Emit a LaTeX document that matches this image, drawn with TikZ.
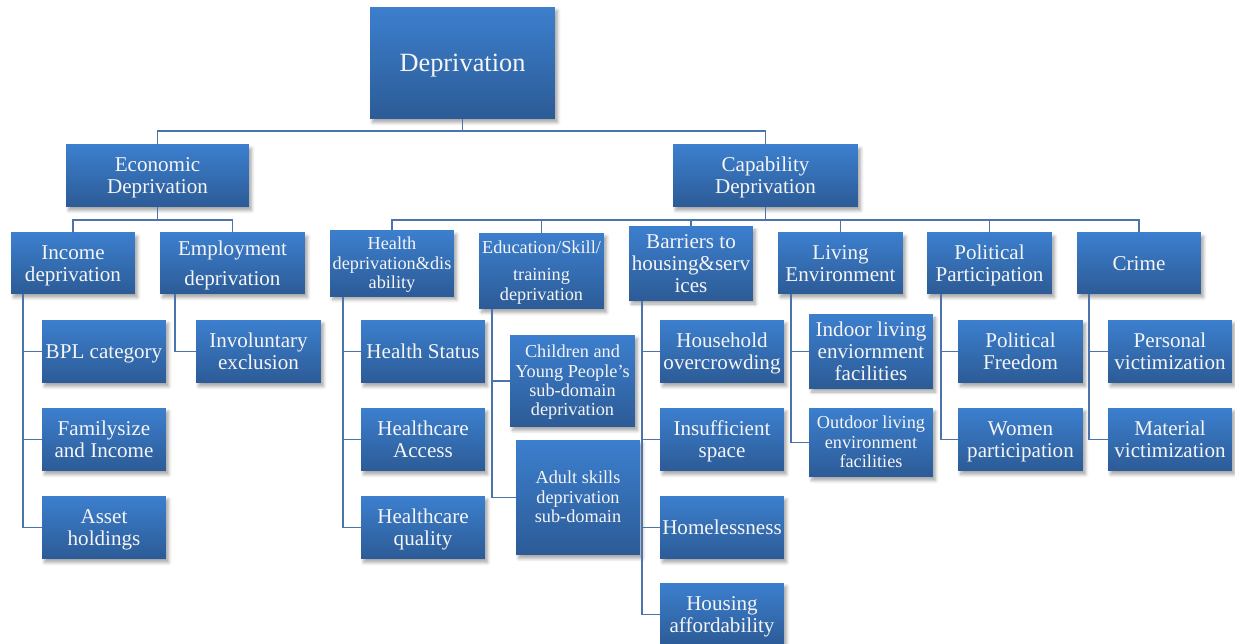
\documentclass[tikz,border=0pt]{standalone}
\usepackage{fontspec}
\setmainfont{Liberation Serif}
\usetikzlibrary{shadows.blur}

\definecolor{boxtop}{RGB}{60,127,206}
\definecolor{boxbot}{RGB}{44,91,150}
\definecolor{linkblue}{RGB}{76,116,172}

% box text: one centred column, first line raised like a word-processor line
\newcommand{\boxlines}[1]{\begin{tabular}{@{}c@{}}\rule{0pt}{0.95em}#1\end{tabular}}

\tikzset{
  box/.style={rectangle, top color=boxtop, bottom color=boxbot,
    text=white!96!black, inner sep=1pt,
    font=\fontsize{12}{12.5}\selectfont,
    blur shadow={shadow xshift=1.5pt, shadow yshift=-2pt, shadow blur steps=5, shadow opacity=35}},
  smallbox/.style={box, font=\fontsize{10.4}{11}\selectfont},
  link/.style={draw=linkblue, line width=1.1pt},
}

\begin{document}
\begin{tikzpicture}[x=0.02cm, y=-0.02cm]
      \useasboundingbox (0,0) rectangle (1235,644);

      % top levels
      \node (dep) at (462.5,63) [box, minimum width=3.70cm, minimum height=2.24cm, font=\fontsize{15}{16}\selectfont] {\boxlines{Deprivation}};
      \node (eco) at (157.5,176) [box, minimum width=3.66cm, minimum height=1.24cm] {\boxlines{Economic\\Deprivation}};
      \node (cap) at (765.5,176) [box, minimum width=3.70cm, minimum height=1.24cm] {\boxlines{Capability\\Deprivation}};

      % economic domains
      \node (inc) at (73,263.5) [box, minimum width=2.48cm, minimum height=1.22cm] {\boxlines{Income\\deprivation}};
      \node (emp) at (232.5,263.5) [box, minimum width=2.90cm, minimum height=1.22cm] {\boxlines{Employment\\[4.5pt]deprivation}};
      \node (bpl) at (104,351.5) [box, minimum width=2.48cm, minimum height=1.26cm] {\boxlines{BPL category}};
      \node (fam) at (104,439.5) [box, minimum width=2.48cm, minimum height=1.26cm] {\boxlines{Familysize\\and Income}};
      \node (ast) at (104,527.5) [box, minimum width=2.48cm, minimum height=1.26cm] {\boxlines{Asset\\holdings}};
      \node (inv) at (258.5,351.5) [box, minimum width=2.50cm, minimum height=1.26cm] {\boxlines{Involuntary\\exclusion}};

      % capability domains
      \node (hlth) at (392,263.5) [smallbox, minimum width=2.48cm, minimum height=1.22cm] {\boxlines{Health\\deprivation\&dis\\ability}};
      \node (edu) at (541.5,271) [smallbox, minimum width=2.50cm, minimum height=1.52cm] {\boxlines{Education/Skill/\\[4.5pt]training\\deprivation}};
      \node (bar) at (691,263.5) [box, minimum width=2.48cm, minimum height=1.22cm] {\boxlines{Barriers to\\housing\&serv\\ices}};
      \node (liv) at (840.5,263.5) [box, minimum width=2.50cm, minimum height=1.22cm] {\boxlines{Living\\Environment}};
      \node (pol) at (989.5,263.5) [box, minimum width=2.50cm, minimum height=1.22cm] {\boxlines{Political\\Participation}};
      \node (crm) at (1139,263.5) [box, minimum width=2.48cm, minimum height=1.22cm] {\boxlines{Crime}};

      % health
      \node (hst) at (423,351.5) [box, minimum width=2.48cm, minimum height=1.26cm] {\boxlines{Health Status}};
      \node (hac) at (423,439.5) [box, minimum width=2.48cm, minimum height=1.26cm] {\boxlines{Healthcare\\Access}};
      \node (hqu) at (423,527.5) [box, minimum width=2.48cm, minimum height=1.26cm] {\boxlines{Healthcare\\quality}};

      % education
      \node (cyp) at (572.5,381) [smallbox, minimum width=2.50cm, minimum height=1.84cm] {\boxlines{Children and\\Young People's\\sub-domain\\deprivation}};
      \node (ads) at (578,497.5) [smallbox, minimum width=2.48cm, minimum height=2.30cm] {\boxlines{Adult skills\\deprivation\\sub-domain}};

      % housing
      \node (hov) at (722,351.5) [box, minimum width=2.48cm, minimum height=1.26cm] {\boxlines{Household\\overcrowding}};
      \node (ins) at (722,439.5) [box, minimum width=2.48cm, minimum height=1.26cm] {\boxlines{Insufficient\\space}};
      \node (hom) at (722,527.5) [box, minimum width=2.48cm, minimum height=1.26cm] {\boxlines{Homelessness}};
      \node (haf) at (722,614.5) [box, minimum width=2.48cm, minimum height=1.26cm] {\boxlines{Housing\\affordability}};

      % living environment
      \node (ind) at (871,351.5) [box, minimum width=2.48cm, minimum height=1.26cm] {\boxlines{Indoor living\\enviornment\\facilities}};
      \node (out) at (871,442.5) [smallbox, minimum width=2.48cm, minimum height=1.38cm] {\boxlines{Outdoor living\\environment\\facilities}};

      % political
      \node (pfr) at (1020.5,351.5) [box, minimum width=2.50cm, minimum height=1.26cm] {\boxlines{Political\\Freedom}};
      \node (wpa) at (1020.5,439.5) [box, minimum width=2.50cm, minimum height=1.26cm] {\boxlines{Women\\participation}};

      % crime
      \node (pvi) at (1170,351.5) [box, minimum width=2.48cm, minimum height=1.26cm] {\boxlines{Personal\\victimization}};
      \node (mvi) at (1170,439.5) [box, minimum width=2.48cm, minimum height=1.26cm] {\boxlines{Material\\victimization}};

      % links
      \draw[link] (dep.south) -- +(0,12) -| (eco.north);
      \draw[link] (dep.south) -- +(0,12) -| (cap.north);
      \foreach \c in {inc,emp}
        \draw[link] (eco.south) -- +(0,13) -| (\c.north);
      \foreach \c in {hlth,edu,bar,liv,pol,crm}
        \draw[link] (cap.south) -- +(0,13) -| (\c.north);

      \foreach \c in {bpl,fam,ast}
        \draw[link] (inc.south west) ++(12,0) |- (\c.west);
      \draw[link] (emp.south west) ++(15,0) |- (inv.west);
      \foreach \c in {hst,hac,hqu}
        \draw[link] (hlth.south west) ++(13,0) |- (\c.west);
      \foreach \c in {cyp,ads}
        \draw[link] (edu.south west) ++(13,0) |- (\c.west);
      \foreach \c in {hov,ins,hom,haf}
        \draw[link] (bar.south west) ++(13,0) |- (\c.west);
      \foreach \c in {ind,out}
        \draw[link] (liv.south west) ++(13,0) |- (\c.west);
      \foreach \c in {pfr,wpa}
        \draw[link] (pol.south west) ++(14,0) |- (\c.west);
      \foreach \c in {pvi,mvi}
        \draw[link] (crm.south west) ++(12,0) |- (\c.west);

\end{tikzpicture}
\end{document}
